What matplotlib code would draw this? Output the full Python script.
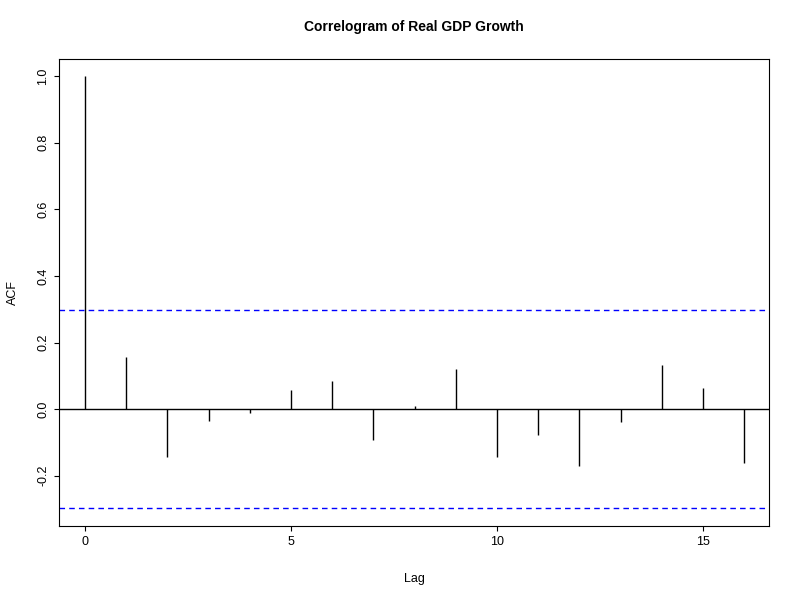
import matplotlib
matplotlib.use("Agg")
import matplotlib.pyplot as plt

lags = list(range(17))
acf = [1.0, 0.156, -0.144, -0.036, -0.012, 0.057, 0.084, -0.093, 0.009, 0.120,
       -0.144, -0.078, -0.171, -0.039, 0.132, 0.063, -0.162]
ci = 0.298

plt.rcParams['font.family'] = ['Liberation Sans', 'DejaVu Sans']
fig = plt.figure(figsize=(8, 6), dpi=100)
ax = fig.add_axes([0.07375, 0.1233, 0.8875, 0.778])
ax.vlines(lags, 0, acf, color='black', linewidth=1)
ax.axhline(0, color='black', linewidth=1)
ax.axhline(ci, color='blue', linestyle=(0, (4, 3)), linewidth=1)
ax.axhline(-ci, color='blue', linestyle=(0, (4, 3)), linewidth=1)
ax.set_xlim(-0.63, 16.6)
ax.set_ylim(-0.351, 1.051)
ax.set_xticks([0, 5, 10, 15])
ax.set_yticks([-0.2, 0.0, 0.2, 0.4, 0.6, 0.8, 1.0])
ax.set_yticklabels(['-0.2', '0.0', '0.2', '0.4', '0.6', '0.8', '1.0'], rotation=90, va='center')
ax.tick_params(labelsize=9)
ax.set_xlabel('Lag', fontsize=9, labelpad=18)
ax.set_ylabel('ACF', fontsize=9, labelpad=13)
ax.set_title('Correlogram of Real GDP Growth', fontsize=10, fontweight='bold', pad=20)
fig.savefig('out.png')
